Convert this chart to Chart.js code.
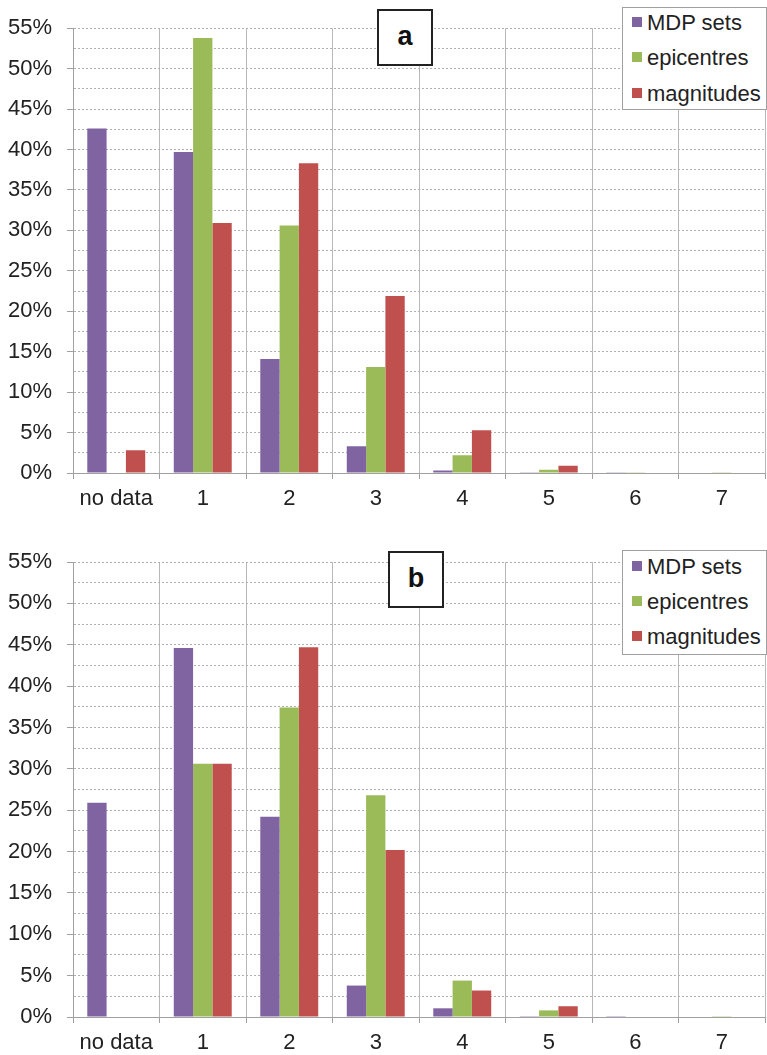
<!DOCTYPE html>
<html>
<head>
<meta charset="utf-8">
<script src="https://cdn.jsdelivr.net/npm/chart.js@4.4.1/dist/chart.umd.min.js"></script>
<style>
  body { margin: 0; background: #fff; font-family: "Liberation Sans", Arial, sans-serif; }
  .panel { position: absolute; left: 0; width: 767px; }
  .legend { position: absolute; border: 1px solid #a0a0a0; background: #fff; box-sizing: border-box; }
  .legend .row { position: absolute; left: 9px; font-size: 22px; color: #222; white-space: nowrap; line-height: 26px; }
  .legend .sw { display: inline-block; width: 10px; height: 10px; margin-right: 5px; vertical-align: 3px; }
  .tag { position: absolute; width: 56px; height: 57px; border: 2px solid #222; box-sizing: border-box;
         background: #fff; font-weight: bold; font-size: 27px; text-align: center; line-height: 50px; color: #111; }
</style>
</head>
<body>
<div class="panel" style="top:0;height:520px"><canvas id="chartA"></canvas></div>
<div class="panel" style="top:520px;height:535px"><canvas id="chartB"></canvas></div>
<div class="tag" style="left:377px;top:9px">a</div>
<div class="tag" style="left:388px;top:551px">b</div>
<div class="legend" id="legendA" style="left:622px;top:7px;width:145px;height:103px"></div>
<div class="legend" id="legendB" style="left:622px;top:550px;width:145px;height:105px"></div>
<script>
var categories = ['no data', '1', '2', '3', '4', '5', '6', '7'];
var seriesNames = ['MDP sets', 'epicentres', 'magnitudes'];
var seriesColors = ['#8064A2', '#9BBB59', '#C0504D'];

// panel a
var mdpA = [42.6, 39.7, 14.1, 3.3, 0.3, 0.1, 0.1, 0];
var epiA = [0, 53.8, 30.6, 13.1, 2.2, 0.4, 0.1, 0.1];
var magA = [2.8, 30.9, 38.3, 21.9, 5.3, 0.9, 0, 0];

// panel b
var mdpB = [25.9, 44.6, 24.2, 3.8, 1.05, 0.1, 0.1, 0];
var epiB = [0, 30.6, 37.4, 26.8, 4.4, 0.8, 0, 0.1];
var magB = [0, 30.6, 44.7, 20.2, 3.2, 1.3, 0, 0];

var yMax = 55;
var yStep = 2.5;
var yLabelStep = 5;

function makeChart(id, series, padTop, xHeight) {
    var ctx = document.getElementById(id).getContext('2d');
    return new Chart(ctx, {
        type: 'bar',
        data: {
            labels: categories,
            datasets: series.map(function(d, i) {
                return {
                    label: seriesNames[i],
                    data: d,
                    backgroundColor: seriesColors[i],
                    borderWidth: 0,
                    categoryPercentage: 0.67,
                    barPercentage: 1.0
                };
            })
        },
        options: {
            responsive: true,
            maintainAspectRatio: false,
            animation: false,
            layout: { padding: { top: padTop, right: 2, left: 0, bottom: 0 } },
            plugins: { legend: { display: false }, tooltip: { enabled: false } },
            scales: {
                x: {
                    offset: true,
                    grid: { offset: true, color: '#b8b8b8', lineWidth: 1, drawTicks: true, tickLength: 6, tickColor: '#a0a0a0' },
                    border: { display: true, color: '#a0a0a0', width: 1 },
                    ticks: { color: '#222', padding: 7, font: { family: 'Liberation Sans, Arial', size: 22 } },
                    afterFit: function(scale) { scale.height = xHeight; }
                },
                y: {
                    min: 0,
                    max: yMax,
                    grid: {
                        color: '#b0b0b0', lineWidth: 1, tickLength: 6,
                        tickColor: function(c) { return c.tick && c.tick.value % yLabelStep === 0 ? '#a0a0a0' : 'rgba(0,0,0,0)'; }
                    },
                    border: { display: true, color: '#a0a0a0', width: 1, dash: [2, 2] },
                    ticks: {
                        stepSize: yStep,
                        autoSkip: false,
                        padding: 15,
                        color: '#222',
                        font: { family: 'Liberation Sans, Arial', size: 22 },
                        callback: function(v) { return v % yLabelStep === 0 ? v + '%' : ''; }
                    },
                    afterFit: function(scale) { scale.width = 73; }
                }
            }
        }
    });
}

function buildLegend(id, rowTops) {
    var box = document.getElementById(id);
    seriesNames.forEach(function(name, i) {
        var row = document.createElement('div');
        row.className = 'row';
        row.style.top = rowTops[i] + 'px';
        var sw = document.createElement('span');
        sw.className = 'sw';
        sw.style.background = seriesColors[i];
        row.appendChild(sw);
        row.appendChild(document.createTextNode(name));
        box.appendChild(row);
    });
}

makeChart('chartA', [mdpA, epiA, magA], 17, 47);
makeChart('chartB', [mdpB, epiB, magB], 42, 38);
buildLegend('legendA', [2, 37, 73]);
buildLegend('legendB', [3, 38, 73]);
</script>
</body>
</html>
